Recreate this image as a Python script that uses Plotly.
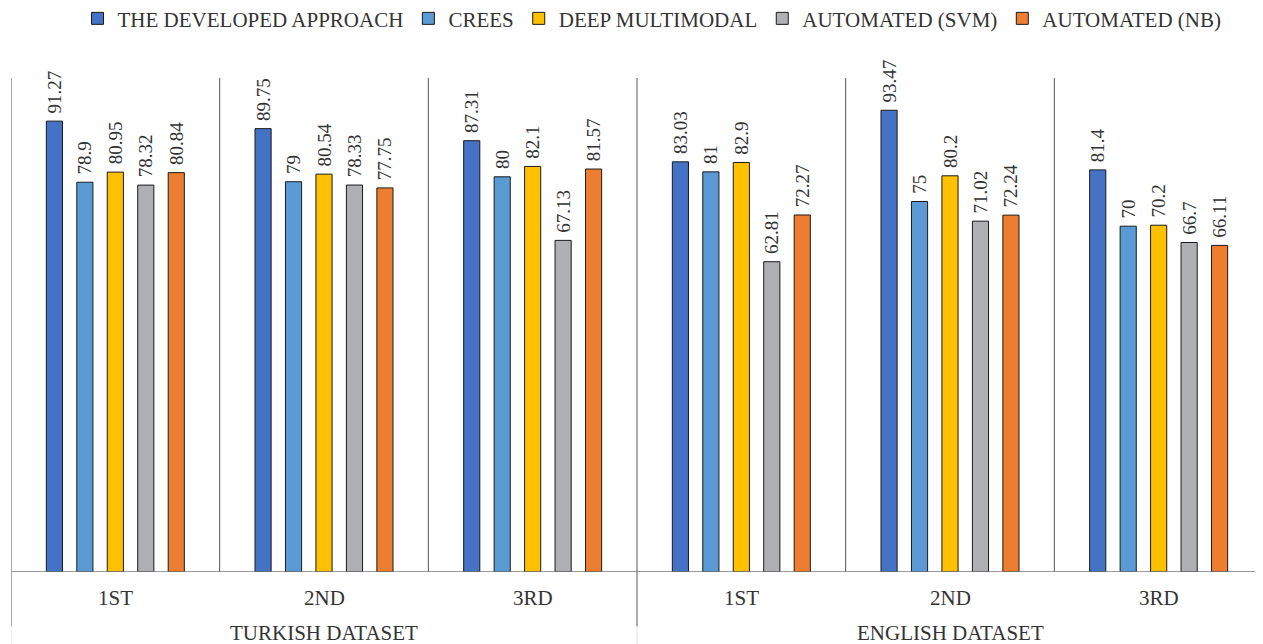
import plotly.graph_objects as go

datasets = ["TURKISH DATASET", "ENGLISH DATASET"]
folds = ["1ST", "2ND", "3RD", "1ST", "2ND", "3RD"]
series_names = ["THE DEVELOPED APPROACH", "CREES", "DEEP MULTIMODAL", "AUTOMATED (SVM)", "AUTOMATED (NB)"]
developed = [91.27, 89.75, 87.31, 83.03, 93.47, 81.4]
crees = [78.9, 79, 80, 81, 75, 70]
deep_multimodal = [80.95, 80.54, 82.1, 82.9, 80.2, 70.2]
automated_svm = [78.32, 78.33, 67.13, 62.81, 71.02, 66.7]
automated_nb = [80.84, 77.75, 81.57, 72.27, 72.24, 66.11]
colors = ["#4472C4", "#5B9BD5", "#FFC000", "#AFB0B4", "#ED7D31"]

FONT = "Liberation Serif"
TXT = "#333333"
FS = 21
xs = list(range(len(folds)))

fig = go.Figure()
for name, vals, col in zip(series_names,
                           [developed, crees, deep_multimodal, automated_svm, automated_nb],
                           colors):
    fig.add_trace(go.Bar(
        x=xs, y=vals, name=name,
        marker=dict(color=col, line=dict(color="#1a1a1a", width=1)),
        text=["\u00a0" + f"{v:g}" for v in vals], textposition="outside", textangle=-90,
        textfont=dict(family=FONT, size=19, color=TXT),
        constraintext="none", cliponaxis=False,
    ))

shapes = []
for i in range(1, len(folds)):
    y0 = -0.11 if i == 3 else 0
    shapes.append(dict(type="line", xref="x", yref="paper", x0=i - 0.5, x1=i - 0.5,
                       y0=y0, y1=1, line=dict(color="#555555", width=1)))
    if i == 3:
        shapes.append(dict(type="line", xref="x", yref="paper", x0=i - 0.5, x1=i - 0.5,
                           y0=-0.16, y1=-0.11, line=dict(color="#e0e0e0", width=1)))
shapes.append(dict(type="line", xref="x", yref="paper", x0=-0.5, x1=-0.5,
                   y0=-0.11, y1=1, line=dict(color="#555555", width=1)))
shapes.append(dict(type="line", xref="x", yref="paper", x0=-0.5, x1=-0.5,
                   y0=-0.16, y1=-0.11, line=dict(color="#e0e0e0", width=1)))
shapes.append(dict(type="line", xref="paper", yref="y", x0=0, x1=1, y0=0, y1=0,
                   line=dict(color="#777777", width=1.5)))

annotations = []
for i, f in enumerate(folds):
    annotations.append(dict(x=i, y=-0.0526, xref="x", yref="paper", yanchor="middle",
                            text=f, showarrow=False,
                            font=dict(family=FONT, size=FS, color=TXT)))
for j, d in enumerate(datasets):
    annotations.append(dict(x=1 + 3 * j, y=-0.1235, xref="x", yref="paper", yanchor="middle",
                            text=d, showarrow=False,
                            font=dict(family=FONT, size=FS, color=TXT)))

fig.update_layout(
    width=1255, height=636,
    margin=dict(l=3, r=0, t=70, b=72, autoexpand=False),
    paper_bgcolor="white", plot_bgcolor="white",
    barmode="group", bargap=0.27, bargroupgap=0.47,
    showlegend=True,
    legend=dict(orientation="h", x=0.512, xanchor="center", y=1.12, yanchor="middle",
                font=dict(family=FONT, size=FS, color=TXT), itemwidth=30,
                traceorder="normal"),
    xaxis=dict(range=[-0.5, 5.5], showticklabels=False, showgrid=False, zeroline=False,
               showline=False, ticks=""),
    yaxis=dict(range=[0, 100], visible=False),
    shapes=shapes, annotations=annotations,
)
fig.write_html("out.html")
